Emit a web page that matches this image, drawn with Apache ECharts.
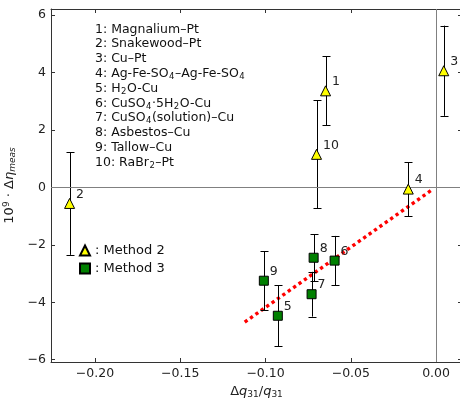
<!DOCTYPE html>
<html><head><meta charset="utf-8">
<script src="https://cdn.jsdelivr.net/npm/echarts@6/dist/echarts.min.js"></script>
<style>html,body{margin:0;padding:0;background:#fff}#c{width:460px;height:398px}</style>
</head><body><div id="c"></div>
<script>
const method2Ids = ['1', '2', '3', '4', '10'];
const method2X = [-0.0648, -0.2149, 0.0045, -0.0163, -0.0701];
const method2Y = [3.36, -0.56, 4.06, -0.06, 1.15];
const method2Err = [1.20, 1.79, 1.57, 0.94, 1.88];

const method3Ids = ['5', '6', '7', '8', '9'];
const method3X = [-0.0928, -0.0595, -0.0730, -0.0718, -0.1010];
const method3Y = [-4.47, -2.55, -3.72, -2.45, -3.25];
const method3Err = [1.07, 0.86, 0.78, 0.82, 1.03];

const fitX = [-0.1122, -0.0025];
const fitY = [-4.69, -0.09];

const xTicks = [-0.20, -0.15, -0.10, -0.05, 0.00];
const yTicks = [-6, -4, -2, 0, 2, 4, 6];

const legendLines = [
  '1: Magnalium\u2013Pt',
  '2: Snakewood\u2013Pt',
  '3: Cu\u2013Pt',
  '4: Ag-Fe-SO{s|4}\u2013Ag-Fe-SO{s|4}',
  '5: H{s|2}O-Cu',
  '6: CuSO{s|4}\u00b75H{s|2}O-Cu',
  '7: CuSO{s|4}(solution)\u2013Cu',
  '8: Asbestos\u2013Cu',
  '9: Tallow\u2013Cu',
  '10: RaBr{s|2}\u2013Pt'
];

const FONT = 'DejaVu Sans';
const xMin = -0.2258, xMax = 0.0152, yMin = -6.08, yMax = 6.21;

function pts(xs, ys, ids) { return xs.map((x, i) => ({ value: [x, ys[i]], name: ids[i] })); }
function errs(xs, ys, es) { return xs.map((x, i) => [x, ys[i], es[i]]); }

function errRender(params, api) {
  const x = api.value(0), y = api.value(1), e = api.value(2);
  const t = api.coord([x, y + e]), b = api.coord([x, y - e]);
  const cx = Math.round(t[0]) + 0.5, cap = 4;
  const st = { stroke: '#000', lineWidth: 1 };
  return { type: 'group', children: [
    { type: 'line', shape: { x1: cx, y1: t[1], x2: cx, y2: b[1] }, style: st },
    { type: 'line', shape: { x1: cx - cap, y1: Math.round(t[1]) + 0.5, x2: cx + cap, y2: Math.round(t[1]) + 0.5 }, style: st },
    { type: 'line', shape: { x1: cx - cap, y1: Math.round(b[1]) + 0.5, x2: cx + cap, y2: Math.round(b[1]) + 0.5 }, style: st }
  ]};
}

const fmtNum = v => v.toFixed(2).replace('-', '\u2212');
const fmtInt = v => String(v).replace('-', '\u2212');

const ptLabel = { show: true, position: 'right', distance: 1, offset: [0, -9], formatter: p => p.name, color: '#222', fontFamily: FONT, fontSize: 12.5 };

const chart = echarts.init(document.getElementById('c'), null, { renderer: 'canvas' });
chart.setOption({
  animation: false,
  textStyle: { fontFamily: FONT },
  grid: { left: 51, right: -2, top: 9, bottom: 36, containLabel: false, outerBoundsMode: 'none' },
  legend: {
    left: 79, top: 244, orient: 'vertical', itemWidth: 10, itemHeight: 10, itemGap: 5, padding: 0,
    formatter: n => ': ' + n,
    textStyle: { fontFamily: FONT, fontSize: 13, color: '#111' },
    data: ['Method 2', 'Method 3']
  },
  xAxis: [{
    type: 'value', min: xMin, max: xMax,
    name: '\u0394{it|q}{sub|31}/{it|q}{sub|31}', nameLocation: 'middle', nameGap: 19,
    nameTextStyle: { fontFamily: FONT, fontSize: 13, color: '#222',
      rich: { it: { fontStyle: 'italic', fontSize: 13, fontFamily: FONT, color: '#222' },
              sub: { fontSize: 9, fontFamily: FONT, color: '#222', verticalAlign: 'bottom', padding: [6, 0, 0, 0] } } },
    axisLine: { onZero: false, lineStyle: { color: '#333', width: 1 } },
    splitLine: { show: false },
    axisTick: { inside: true, length: 4, lineStyle: { color: '#333' }, customValues: xTicks },
    axisLabel: { customValues: xTicks, formatter: fmtNum, color: '#222', fontSize: 12.5, fontFamily: FONT, margin: 5 }
  }, {
    type: 'value', position: 'top', min: xMin, max: xMax,
    axisLine: { onZero: false, lineStyle: { color: '#333', width: 1 } },
    splitLine: { show: false },
    axisTick: { inside: true, length: 4, lineStyle: { color: '#333' }, customValues: xTicks },
    axisLabel: { show: false }
  }],
  yAxis: [{
    type: 'value', min: yMin, max: yMax,
    name: '10{sup|9} \u00b7 \u0394{it|\u03b7}{sub|meas}', nameLocation: 'middle', nameGap: 30, nameRotate: 90,
    nameTextStyle: { fontFamily: FONT, fontSize: 13, color: '#222',
      rich: { sup: { fontSize: 9, fontFamily: FONT, color: '#222', verticalAlign: 'top', padding: [0, 0, 6, 0] },
              it: { fontStyle: 'italic', fontSize: 13, fontFamily: FONT, color: '#222' },
              sub: { fontSize: 9, fontStyle: 'italic', fontFamily: FONT, color: '#222', verticalAlign: 'bottom', padding: [6, 0, 0, 0] } } },
    axisLine: { show: true, onZero: false, lineStyle: { color: '#333', width: 1 } },
    splitLine: { show: false },
    axisTick: { show: true, inside: true, length: 4, lineStyle: { color: '#333' }, customValues: yTicks },
    axisLabel: { customValues: yTicks, formatter: fmtInt, color: '#222', fontSize: 12.5, fontFamily: FONT, margin: 5 }
  }, {
    type: 'value', position: 'right', min: yMin, max: yMax,
    axisLine: { show: true, onZero: false, lineStyle: { color: '#333', width: 1 } },
    splitLine: { show: false },
    axisTick: { show: true, inside: true, length: 4, lineStyle: { color: '#333' }, customValues: yTicks },
    axisLabel: { show: false }
  }],
  graphic: [{
    type: 'text', left: 95, top: 22, silent: true,
    style: { text: legendLines.join('\n'), fontFamily: FONT, fontSize: 12.5, lineHeight: 14.8, fill: '#111',
      rich: { s: { fontSize: 8.5, fontFamily: FONT, fill: '#111', lineHeight: 14.8, verticalAlign: 'bottom', padding: [0, 0.5, 0, 0.5] } } }
  }],
  series: [
    {
      type: 'line', name: 'zero', data: [], silent: true, z: 1,
      markLine: { silent: true, symbol: 'none', label: { show: false },
        lineStyle: { color: '#808080', width: 1, type: 'solid' },
        data: [{ yAxis: 0 }, { xAxis: 0 }] }
    },
    {
      type: 'line', name: 'fit', data: fitX.map((x, i) => [x, fitY[i]]), showSymbol: false, symbol: 'none', z: 2,
      lineStyle: { color: '#ff0000', width: 3.4, type: [3.3, 3.3], cap: 'butt' }, silent: true
    },
    { type: 'custom', name: 'err2', renderItem: errRender, data: errs(method2X, method2Y, method2Err), z: 3, silent: true },
    { type: 'custom', name: 'err3', renderItem: errRender, data: errs(method3X, method3Y, method3Err), z: 3, silent: true },
    {
      type: 'scatter', name: 'Method 2', symbol: 'triangle', symbolSize: 10, z: 5,
      itemStyle: { color: '#ffff00', borderColor: '#000', borderWidth: 1, opacity: 1 },
      label: ptLabel, data: pts(method2X, method2Y, method2Ids)
    },
    {
      type: 'scatter', name: 'Method 3', symbol: 'rect', symbolSize: 9, z: 5,
      itemStyle: { color: '#008000', borderColor: '#000', borderWidth: 1, opacity: 1 },
      label: ptLabel, data: pts(method3X, method3Y, method3Ids)
    }
  ]
});
</script></body></html>
